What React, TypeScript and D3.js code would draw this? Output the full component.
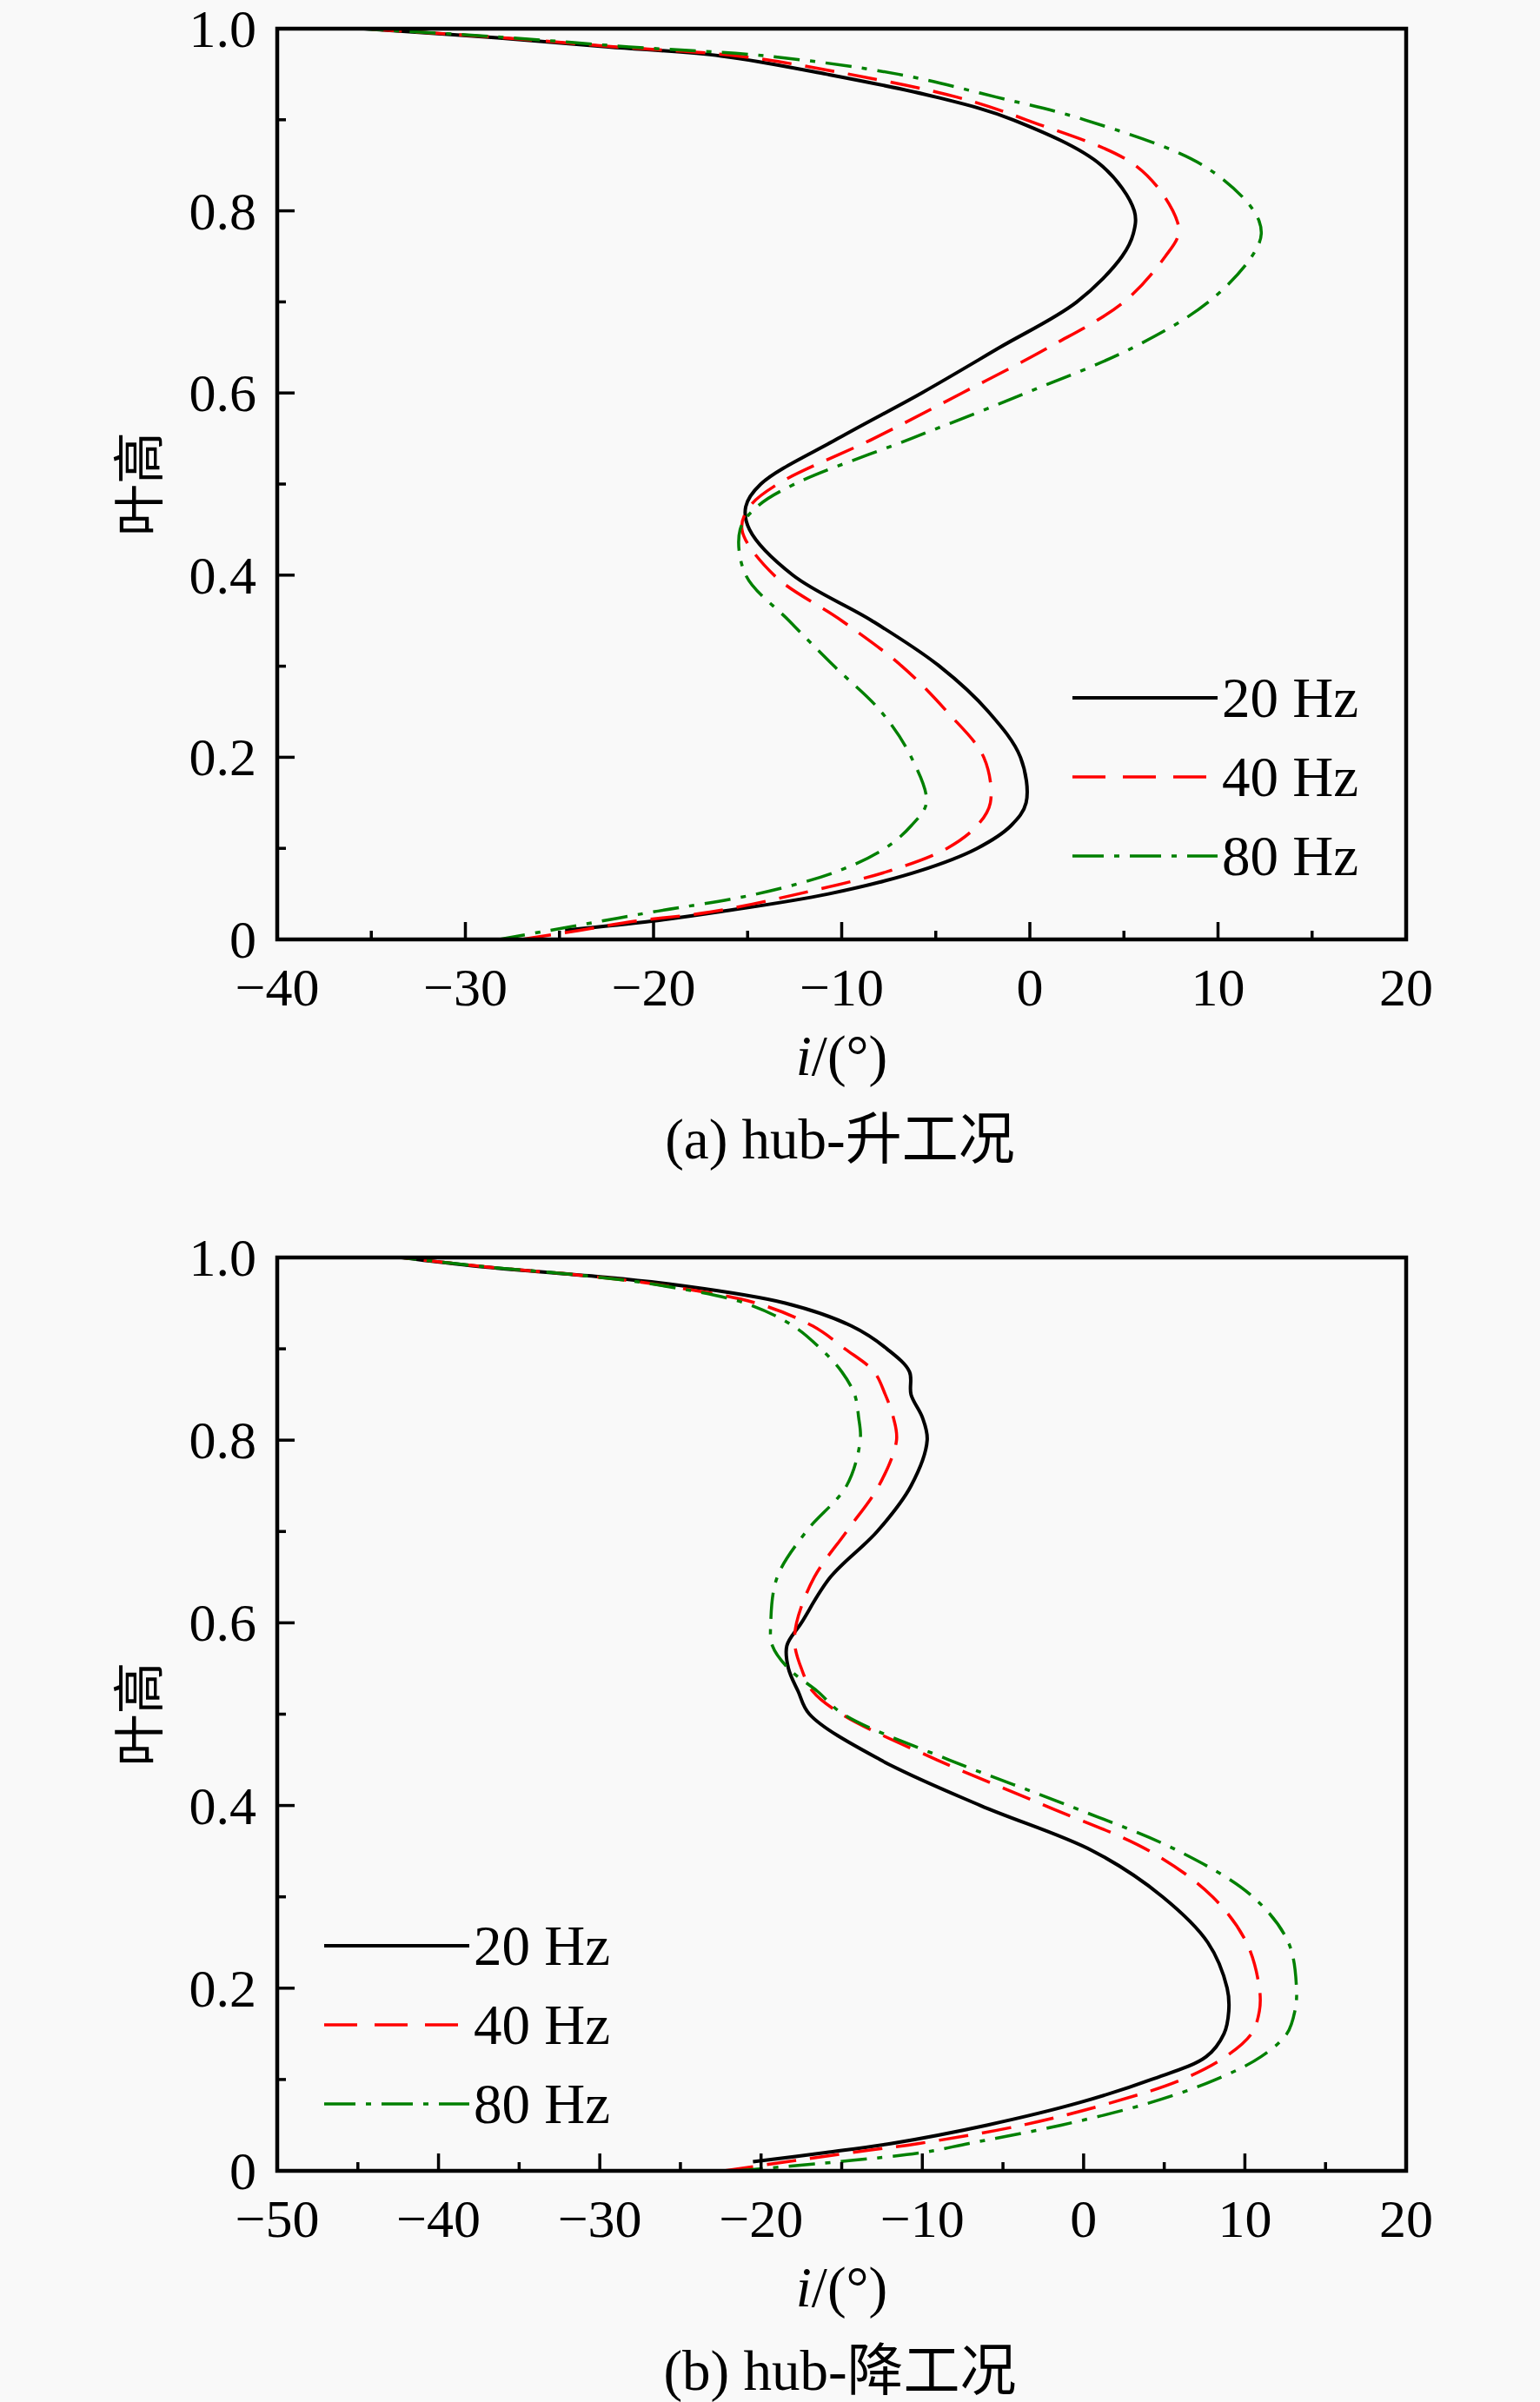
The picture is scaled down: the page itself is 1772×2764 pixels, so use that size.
import { useRef, useEffect } from "react";
import * as d3 from "d3";

// blade height samples (panel a: hub, rising)
const heightsA = [
  0, 0.01, 0.02, 0.03, 0.05, 0.075, 0.1, 0.125, 0.15, 0.2, 0.25, 0.3, 0.35, 0.4, 0.45, 0.475,
  0.5, 0.55, 0.6, 0.65, 0.7, 0.75, 0.775, 0.8, 0.85, 0.9, 0.925, 0.95, 0.97, 0.98, 0.99, 1.0,
];
const riseHz20 = [
  null, -24.7, -20.1, -16.6, -10.7, -5.9, -2.8, -1.0, -0.2, -0.5, -2.2, -4.8, -8.4, -12.6, -14.9, -15.1,
  -14.3, -10.2, -5.75, -1.6, 2.5, 4.9, 5.5, 5.55, 3.8, -0.9, -5.0, -10.8, -16.4, -22.4, -28.3, -35.4,
];
const riseHz40 = [
  -27.0, -23.9, -21.0, -17.0, -12.3, -7.5, -4.4, -2.8, -2.1, -2.45, -4.4, -6.8, -10.0, -13.6, -15.3, -14.9,
  -13.4, -8.3, -3.6, 1.0, 5.0, 7.2, 7.9, 7.6, 5.6, -0.2, -3.9, -9.6, -15.5, -22.0, -28.0, -35.5,
];
const riseHz80 = [
  -28.2, -25.5, -22.8, -20.1, -14.5, -10.2, -7.7, -6.3, -5.5, -6.3, -7.9, -10.4, -12.8, -15.1, -15.4, -14.5,
  -12.5, -6.3, -0.2, 5.5, 9.5, 11.8, 12.3, 11.9, 9.2, 2.9, -1.8, -7.0, -14.0, -21.3, -27.6, -35.5,
];

// blade height samples (panel b: hub, falling)
const heightsB = [
  0, 0.01, 0.02, 0.03, 0.05, 0.075, 0.1, 0.125, 0.15, 0.175, 0.2, 0.25, 0.3, 0.35, 0.4, 0.45, 0.5,
  0.525, 0.55, 0.575, 0.6, 0.65, 0.7, 0.75, 0.8, 0.825, 0.85, 0.875, 0.9, 0.925, 0.95, 0.97, 0.98, 0.99, 1.0,
];
const fallHz20 = [
  null, -20.5, -16.0, -11.9, -6.0, -0.2, 4.2, 7.6, 8.7, 9.0, 8.9, 7.7, 4.9, 0.6, -6.4, -12.6, -17.0,
  -17.7, -18.3, -18.4, -17.5, -15.7, -12.8, -10.7, -9.7, -10.0, -10.7, -10.8, -12.2, -14.4, -18.5, -25.3, -30.7, -37.4, -42.3,
];
const fallHz40 = [
  -22.3, -18.4, -14.4, -10.2, -3.8, 1.8, 6.1, 8.8, 10.4, 10.9, 10.9, 10.1, 8.0, 4.1, -2.4, -9.1, -15.0,
  -16.8, -17.5, -17.9, -17.8, -16.7, -14.7, -12.7, -11.6, -11.8, -12.3, -13.0, -14.8, -16.8, -20.3, -26.3, -30.9, -37.2, -42.3,
];
const fallHz80 = [
  -21.5, -15.2, -10.0, -7.1, -1.4, 4.2, 8.2, 11.0, 12.6, 13.1, 13.2, 12.7, 10.5, 5.9, -0.95, -8.35, -14.9,
  -16.5, -18.3, -19.3, -19.4, -19.0, -17.2, -14.7, -13.85, -13.95, -14.2, -15.0, -16.3, -18.0, -21.0, -26.4, -30.9, -37.2, -42.3,
];

const seriesNames = ["20 Hz", "40 Hz", "80 Hz"];
const xTicksA = [-40, -30, -20, -10, 0, 10, 20];
const xTicksB = [-50, -40, -30, -20, -10, 0, 10, 20];
const yTicks = [0, 0.2, 0.4, 0.6, 0.8, 1.0];
const yTickLabels = ["0", "0.2", "0.4", "0.6", "0.8", "1.0"];
const captions = ["(a) hub-\u5347\u5de5\u51b5", "(b) hub-\u964d\u5de5\u51b5"];
const yTitle = "\u53f6\u9ad8";

const lineStyles = [
  { color: "#000000", dash: "none", legendDash: "none", width: 4 },
  { color: "#ff0000", dash: "34 16", legendDash: "38 20", width: 3.5 },
  { color: "#008000", dash: "30 12 6 12", legendDash: "36 12 6 12", width: 3.5 },
];

const SERIF = "'Liberation Serif', 'Times New Roman', 'Noto Sans CJK SC', serif";
const FS = 62;

interface IPanel {
  top: number;
  bottom: number;
  xTicks: number[];
  heights: number[];
  series: (number | null)[][];
  caption: string;
  legendX: number;
  legendY: number;
}

const panels: IPanel[] = [
  {
    top: 33,
    bottom: 1081,
    xTicks: xTicksA,
    heights: heightsA,
    series: [riseHz20, riseHz40, riseHz80],
    caption: captions[0],
    legendX: 1234,
    legendY: 803,
  },
  {
    top: 1447,
    bottom: 2498,
    xTicks: xTicksB,
    heights: heightsB,
    series: [fallHz20, fallHz40, fallHz80],
    caption: captions[1],
    legendX: 373,
    legendY: 2239,
  },
];

function drawPanel(svg: d3.Selection<SVGSVGElement, unknown, null, undefined>, p: IPanel, idx: number) {
  const left = 319;
  const right = 1618;
  const xMin = p.xTicks[0];
  const xMax = p.xTicks[p.xTicks.length - 1];
  const x = d3.scaleLinear().domain([xMin, xMax]).range([left, right]);
  const y = d3.scaleLinear().domain([0, 1]).range([p.bottom, p.top]);

  const g = svg.append("g");

  g.append("clipPath")
    .attr("id", `clip${idx}`)
    .append("rect")
    .attr("x", left)
    .attr("y", p.top - 2)
    .attr("width", right - left)
    .attr("height", p.bottom - p.top + 2);

  // curves
  p.series.forEach((vals, si) => {
    const st = lineStyles[si];
    const line = d3
      .line<number | null>()
      .defined((d) => d !== null)
      .x((d) => x(d as number))
      .y((_, i) => y(p.heights[i]))
      .curve(d3.curveCatmullRom.alpha(0.5));
    g.append("path")
      .datum(vals)
      .attr("clip-path", `url(#clip${idx})`)
      .attr("fill", "none")
      .attr("stroke", st.color)
      .attr("stroke-width", st.width)
      .attr("stroke-dasharray", st.dash)
      .attr("d", line);
  });

  // frame
  g.append("rect")
    .attr("x", left)
    .attr("y", p.top)
    .attr("width", right - left)
    .attr("height", p.bottom - p.top)
    .attr("fill", "none")
    .attr("stroke", "#000")
    .attr("stroke-width", 4.5);

  // x ticks (inward)
  const xMinor = d3.range(xMin + 5, xMax, 10);
  p.xTicks.forEach((t) => {
    g.append("line")
      .attr("x1", x(t)).attr("x2", x(t))
      .attr("y1", p.bottom).attr("y2", p.bottom - 20)
      .attr("stroke", "#000").attr("stroke-width", 3.5);
    g.append("text")
      .attr("x", x(t))
      .attr("y", p.bottom + 76)
      .attr("text-anchor", "middle")
      .attr("font-family", SERIF)
      .attr("font-size", FS)
      .text(t < 0 ? `\u2212${Math.abs(t)}` : `${t}`);
  });
  xMinor.forEach((t) => {
    g.append("line")
      .attr("x1", x(t)).attr("x2", x(t))
      .attr("y1", p.bottom).attr("y2", p.bottom - 10)
      .attr("stroke", "#000").attr("stroke-width", 3.5);
  });

  // y ticks (inward)
  yTicks.forEach((t, i) => {
    g.append("line")
      .attr("x1", left).attr("x2", left + 20)
      .attr("y1", y(t)).attr("y2", y(t))
      .attr("stroke", "#000").attr("stroke-width", 3.5);
    g.append("text")
      .attr("x", left - 24)
      .attr("y", y(t) + 21)
      .attr("text-anchor", "end")
      .attr("font-family", SERIF)
      .attr("font-size", FS)
      .text(yTickLabels[i]);
  });
  d3.range(0.1, 1, 0.2).forEach((t) => {
    g.append("line")
      .attr("x1", left).attr("x2", left + 10)
      .attr("y1", y(t)).attr("y2", y(t))
      .attr("stroke", "#000").attr("stroke-width", 3.5);
  });

  // axis titles
  const midY = (p.top + p.bottom) / 2;
  g.append("text")
    .attr("transform", `translate(155,${midY}) rotate(-90)`)
    .attr("text-anchor", "middle")
    .attr("dominant-baseline", "central")
    .attr("font-family", "'Noto Sans CJK SC', sans-serif")
    .attr("font-size", 60)
    .text(yTitle);

  const midX = (left + right) / 2;
  const xt = g
    .append("text")
    .attr("x", midX)
    .attr("y", p.bottom + 156)
    .attr("text-anchor", "middle")
    .attr("font-family", SERIF)
    .attr("font-size", 65);
  xt.append("tspan").attr("font-style", "italic").text("i");
  xt.append("tspan").text("/(\u00b0)");

  g.append("text")
    .attr("x", midX - 2)
    .attr("y", p.bottom + 252)
    .attr("text-anchor", "middle")
    .attr("font-family", SERIF)
    .attr("font-size", 65)
    .text(p.caption);

  // legend
  seriesNames.forEach((name, si) => {
    const st = lineStyles[si];
    const ly = p.legendY + si * 91;
    g.append("line")
      .attr("x1", p.legendX)
      .attr("x2", p.legendX + 167)
      .attr("y1", ly)
      .attr("y2", ly)
      .attr("stroke", st.color)
      .attr("stroke-width", st.width)
      .attr("stroke-dasharray", st.legendDash);
    g.append("text")
      .attr("x", p.legendX + 172)
      .attr("y", ly + 22)
      .attr("font-family", SERIF)
      .attr("font-size", 65)
      .text(name);
  });
}

function draw(ref: HTMLDivElement | null) {
  const svg = d3
    .select(ref)
    .append("svg")
    .attr("width", 1772)
    .attr("height", 2764)
    .style("display", "block");

  svg.append("rect").attr("width", 1772).attr("height", 2764).attr("fill", "#f9f9f9");

  panels.forEach((p, i) => drawPanel(svg as any, p, i));

  return () => {
    svg.remove();
  };
}

export default function App() {
  const ref = useRef<HTMLDivElement>(null);

  useEffect(() => {
    document.body.style.margin = "0";
    return draw(ref.current);
  }, []);

  return <div ref={ref}></div>;
}
